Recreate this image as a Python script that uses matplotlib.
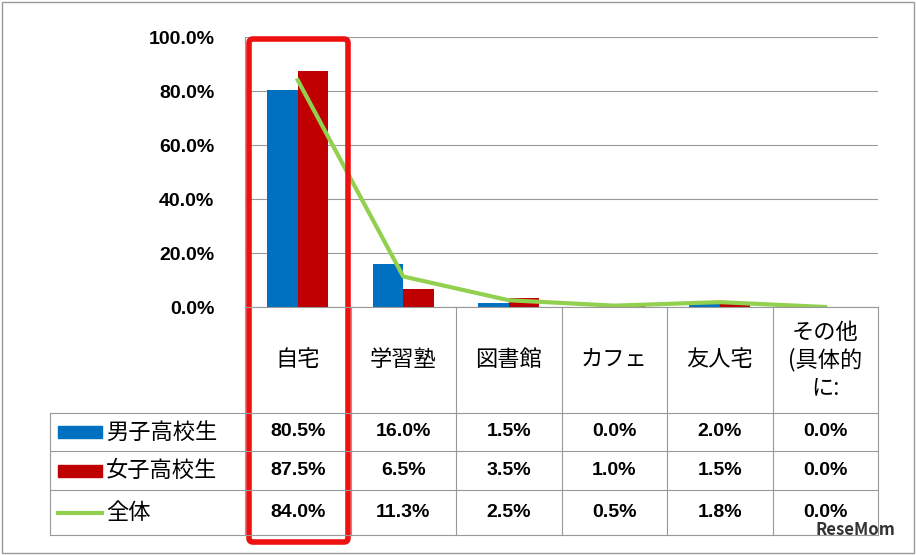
import matplotlib.pyplot as plt
from matplotlib.patches import FancyBboxPatch, Rectangle

plt.rcParams['font.family'] = ['Noto Sans CJK JP', 'DejaVu Sans']

categories = ["自宅", "学習塾", "図書館", "カフェ", "友人宅", "その他\n(具体的\nに:"]
series_names = ["男子高校生", "女子高校生", "全体"]
male = [80.5, 16.0, 1.5, 0.0, 2.0, 0.0]
female = [87.5, 6.5, 3.5, 1.0, 1.5, 0.0]
total = [84.0, 11.3, 2.5, 0.5, 1.8, 0.0]

blue, red, green = "#0070C0", "#C00000", "#92D050"
W, H = 916, 555
x0, x1, ytop, ybot = 245, 878, 37, 307
numfont = ['Liberation Sans', 'DejaVu Sans']

fig = plt.figure(figsize=(W / 100, H / 100), dpi=100)
ax = fig.add_axes([x0 / W, 1 - ybot / H, (x1 - x0) / W, (ybot - ytop) / H])
n = len(categories)
idx = list(range(n))
bw = 0.29
ax.bar([i - bw / 2 for i in idx], male, bw, color=blue, zorder=3)
ax.bar([i + bw / 2 for i in idx], female, bw, color=red, zorder=3)
ax.plot(idx, total, color=green, lw=3, zorder=4)
ax.set_xlim(-0.5, n - 0.5)
ax.set_ylim(0, 100)
ax.set_yticks(range(0, 101, 20))
ax.set_yticklabels([f"{v:.1f}%" for v in range(0, 101, 20)], fontweight="bold",
                   fontsize=14, family=numfont)
ax.set_xticks([])
ax.grid(axis="y", color="#999999", lw=0.8, zorder=0)
for s in ["top", "right", "bottom"]:
    ax.spines[s].set_visible(False)
ax.spines["left"].set_color("#999999")
ax.tick_params(axis="y", length=0, pad=22)

# table overlay in pixel coordinates
ov = fig.add_axes([0, 0, 1, 1])
ov.set_xlim(0, W)
ov.set_ylim(H, 0)
ov.axis("off")
ov.add_patch(Rectangle((2, 2), W - 4, H - 4, fill=False, ec="#999999", lw=1))
cw = (x1 - x0) / n
rows = [307, 413, 451, 490, 535]
lc = "#999999"
for i in range(n + 1):
    ov.plot([x0 + i * cw] * 2, [rows[0], rows[-1]], color=lc, lw=0.8)
ov.plot([50, 50], [rows[1], rows[-1]], color=lc, lw=0.8)
ov.plot([x0, x1], [rows[0]] * 2, color=lc, lw=0.8)
for r in rows[1:]:
    ov.plot([50, x1], [r, r], color=lc, lw=0.8)
for i, c in enumerate(categories):
    ov.text(x0 + (i + 0.5) * cw, (rows[0] + rows[1]) / 2, c, ha="center", va="center",
            fontsize=16, linespacing=1.25)
for k, (name, vals) in enumerate(zip(series_names, [male, female, total])):
    yc = (rows[k + 1] + rows[k + 2]) / 2
    if k < 2:
        ov.add_patch(Rectangle((58, yc - 6), 44, 12, color=[blue, red][k]))
    else:
        ov.plot([58, 102], [yc, yc], color=green, lw=3)
    ov.text(106, yc, name, ha="left", va="center", fontsize=16)
    for i, v in enumerate(vals):
        ov.text(x0 + (i + 0.5) * cw, yc, f"{v:.1f}%", ha="center", va="center",
                fontsize=14, fontweight="bold", family=numfont)
ov.add_patch(FancyBboxPatch((249, 39), 99, 503, boxstyle="round,pad=0,rounding_size=4",
                            fill=False, ec="#EE1111", lw=4))
ov.text(895, 530, "ReseMom", ha="right", va="center", fontsize=12, fontweight="bold",
        color="#333333")
fig.savefig("out.png", dpi=100)
